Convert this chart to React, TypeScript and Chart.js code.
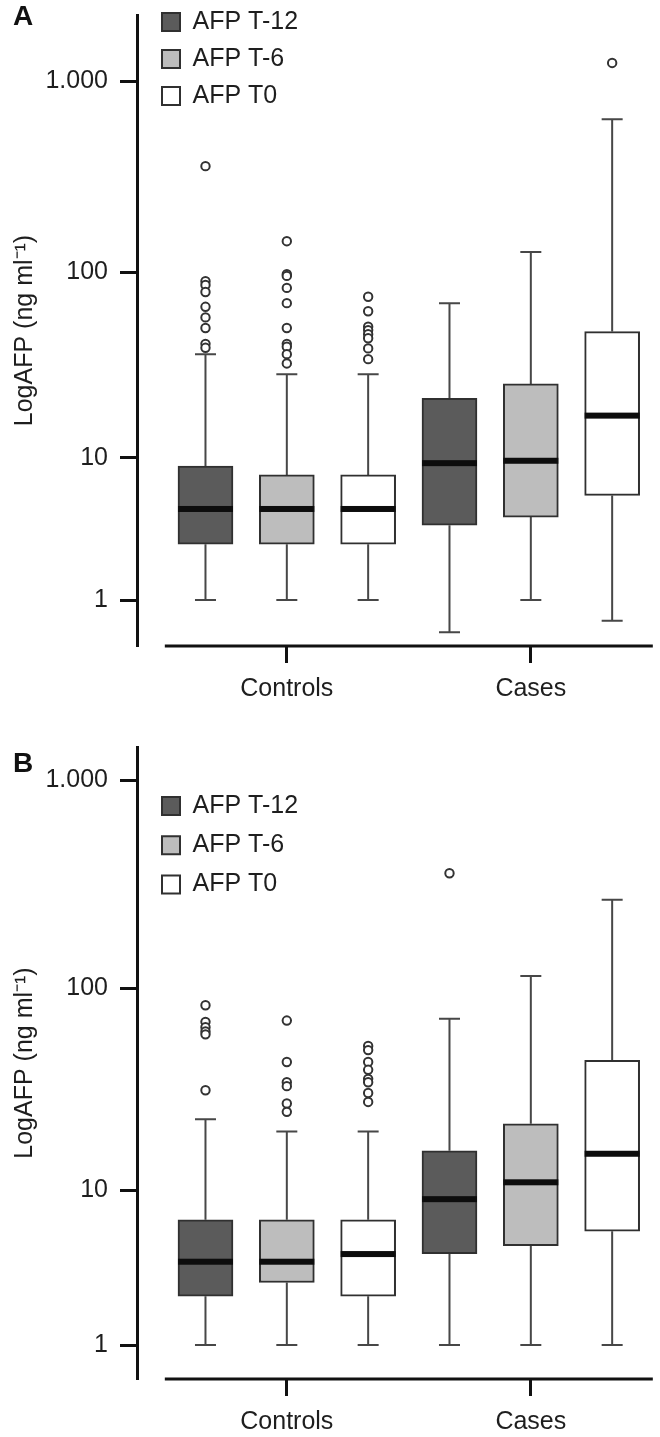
import React, { useEffect, useRef } from 'react';
import { Chart, registerables } from 'chart.js';

Chart.register(...registerables);

const FONT = "'Liberation Sans', Arial, Helvetica, sans-serif";
Chart.defaults.font.family = FONT;

// ---- categories / series / ticks ----
const GROUPS = ['Controls', 'Cases'];
const GROUP_POS = [1, 2];
const SERIES = ['AFP T-12', 'AFP T-6', 'AFP T0'];
const SERIES_OFFSET = [-1 / 3, 0, 1 / 3];
const SERIES_FILL = ['#5b5b5b', '#bdbdbd', '#ffffff'];
const Y_TICKS = [1, 10, 100, 1000];
const Y_TICK_LABELS = ['1', '10', '100', '1.000'];
const Y_TITLE = 'LogAFP (ng ml\u207B\u00B9)';

// ---- Panel A: per series, per group [low whisker, Q1, median, Q3, high whisker] ----
const A_T12 = [[1, 2.9, 4.95, 8.95, 37], [0.36, 3.9, 9.3, 21.4, 69]];
const A_T6 = [[1, 2.9, 4.95, 7.95, 28.9], [1, 4.4, 9.6, 25.6, 128]];
const A_T0 = [[1, 2.9, 4.95, 7.95, 28.9], [0.56, 6.0, 17.2, 48.8, 632]];
const A_T12_OUT = [[360, 90, 86, 79, 66, 58, 51, 42, 40], []];
const A_T6_OUT = [[146, 98, 96, 83, 69, 51, 42, 40.5, 37, 33], []];
const A_T0_OUT = [[74.6, 62.5, 51.8, 49.7, 47.2, 45, 39.7, 34.8], [1242]];
const A_Y_RANGE = [0.153, 2206];

// ---- Panel B ----
const B_T12 = [[1, 2.42, 4.0, 6.93, 23], [1, 4.47, 8.95, 15.96, 71.5]];
const B_T6 = [[1, 2.98, 4.0, 6.93, 19.95], [1, 4.96, 10.98, 21.8, 114.8]];
const B_T0 = [[1, 2.42, 4.44, 6.93, 19.95], [1, 6.0, 15.4, 44.9, 267]];
const B_T12_OUT = [[83, 69, 65, 62, 60, 32], [358]];
const B_T6_OUT = [[70, 44, 35, 33.5, 27.5, 25], []];
const B_T0_OUT = [[52.7, 50.3, 44, 40.3, 36.4, 35, 31, 28], []];
const B_Y_RANGE = [0.376, 1439];

// axis mapping: log10(AFP + 1)
const tf = (v: number) => Math.log10(v + 1);

const legendPlacer = {
  id: 'legendPlacer',
  afterLayout(chart: any, _a: any, opts: any) {
    const lg = chart.legend;
    if (!lg) return;
    const pad = lg.options.labels.padding;
    lg.left = opts.x - pad;
    lg.right = lg.left + lg.width;
    lg.top = opts.y - pad;
    lg.bottom = lg.top + 500;
  },
};

function makeBoxPlugin(stats: number[][][]) {
  return {
    id: 'boxWhiskers',
    beforeDatasetsDraw(chart: any) {
      const { ctx, scales } = chart;
      const x = scales.x;
      const y = scales.y;
      ctx.save();
      ctx.strokeStyle = '#474747';
      ctx.lineWidth = 2;
      stats.forEach((series, s) =>
        series.forEach((st, g) => {
          const cx = x.getPixelForValue(GROUP_POS[g] + SERIES_OFFSET[s]);
          const [lo, q1, , q3, hi] = st.map((v) => y.getPixelForValue(tf(v)));
          const cap = 10.5;
          ctx.beginPath();
          ctx.moveTo(cx, q3);
          ctx.lineTo(cx, hi);
          ctx.moveTo(cx, q1);
          ctx.lineTo(cx, lo);
          ctx.moveTo(cx - cap, hi);
          ctx.lineTo(cx + cap, hi);
          ctx.moveTo(cx - cap, lo);
          ctx.lineTo(cx + cap, lo);
          ctx.stroke();
        })
      );
      ctx.restore();
    },
    afterDatasetsDraw(chart: any) {
      const { ctx, scales, chartArea } = chart;
      const x = scales.x;
      const y = scales.y;
      ctx.save();
      ctx.fillStyle = '#0d0d0d';
      stats.forEach((series, s) =>
        series.forEach((st, g) => {
          const bar = chart.getDatasetMeta(s).data[g];
          const w = bar.width;
          const cx = bar.x;
          const my = y.getPixelForValue(tf(st[2]));
          ctx.fillRect(cx - w / 2, my - 3, w, 6);
        })
      );
      // x axis line (starts away from the y axis)
      ctx.strokeStyle = '#111111';
      ctx.lineWidth = 3;
      ctx.beginPath();
      ctx.moveTo(x.getPixelForValue(0.5), chartArea.bottom);
      ctx.lineTo(x.getPixelForValue(2.5), chartArea.bottom);
      ctx.stroke();
      ctx.restore();
    },
  };
}

type PanelProps = {
  top: number;
  height: number;
  letter: string;
  letterTop: number;
  stats: number[][][];
  outliers: number[][][];
  yRange: number[];
  areaTop: number;
  areaBottom: number;
  legendY: number;
  legendPad: number;
};

function Panel(p: PanelProps) {
  const ref = useRef<HTMLCanvasElement>(null);
  useEffect(() => {
    if (!ref.current) return;
    const tickFont = { size: 25, family: FONT };
    const barSets = SERIES.map((label, s) => ({
      type: 'bar' as const,
      label,
      data: GROUPS.map((_, g) => ({
        x: GROUP_POS[g] + SERIES_OFFSET[s],
        y: [tf(p.stats[s][g][1]), tf(p.stats[s][g][3])],
      })),
      backgroundColor: SERIES_FILL[s],
      borderColor: '#303030',
      borderWidth: 2,
      borderSkipped: false,
      barThickness: 55,
      grouped: false,
    }));
    const outlierSet = {
      type: 'scatter' as const,
      label: 'outliers',
      data: p.outliers.flatMap((series, s) =>
        series.flatMap((vals, g) =>
          vals.map((v) => ({ x: GROUP_POS[g] + SERIES_OFFSET[s], y: tf(v) }))
        )
      ),
      pointRadius: 4.2,
      pointBorderWidth: 2,
      pointBorderColor: '#333333',
      pointBackgroundColor: '#ffffff',
    };
    const chart = new Chart(ref.current, {
      type: 'bar',
      data: { datasets: [...barSets, outlierSet] as any },
      plugins: [legendPlacer, makeBoxPlugin(p.stats)],
      options: {
        responsive: false,
        animation: false,
        events: [],
        layout: { padding: { top: p.areaTop, right: 2, bottom: 0, left: 0 } },
        plugins: {
          legend: {
            position: 'chartArea',
            align: 'start',
            labels: {
              boxWidth: 18,
              boxHeight: 18,
              padding: p.legendPad,
              color: '#1e1e1e',
              font: tickFont,
              filter: (item: any) => item.datasetIndex < SERIES.length,
            },
          },
          tooltip: { enabled: false },
          legendPlacer: { x: 162, y: p.legendY },
        } as any,
        scales: {
          x: {
            type: 'linear',
            min: 0.386,
            max: 2.504,
            offset: false,
            afterBuildTicks: (s: any) => {
              s.ticks = GROUP_POS.map((v) => ({ value: v }));
            },
            afterFit: (s: any) => {
              s.height = p.height - p.areaBottom;
              s.paddingLeft = 0;
              s.paddingRight = 0;
              s.paddingTop = 0;
              s.paddingBottom = 0;
            },
            ticks: {
              callback: (_v: any, i: number) => GROUPS[i],
              font: tickFont,
              color: '#1e1e1e',
              padding: 11,
              maxRotation: 0,
              autoSkip: false,
            },
            grid: {
              offset: false,
              drawOnChartArea: false,
              drawTicks: true,
              tickLength: 17,
              tickWidth: 3,
              tickColor: '#111111',
            },
            border: { display: false },
          },
          y: {
            type: 'linear',
            min: tf(p.yRange[0]),
            max: tf(p.yRange[1]),
            afterBuildTicks: (s: any) => {
              s.ticks = Y_TICKS.map((v) => ({ value: tf(v) }));
            },
            afterFit: (s: any) => {
              s.width = 137;
              s.paddingLeft = 0;
              s.paddingRight = 0;
              s.paddingTop = 0;
              s.paddingBottom = 0;
            },
            ticks: {
              callback: (_v: any, i: number) => Y_TICK_LABELS[i],
              font: tickFont,
              color: '#1e1e1e',
              padding: 12,
              autoSkip: false,
            },
            grid: {
              drawOnChartArea: false,
              drawTicks: true,
              tickLength: 17,
              tickWidth: 3,
              tickColor: '#111111',
            },
            border: { display: true, width: 3, color: '#111111' },
            title: {
              display: true,
              text: Y_TITLE,
              font: tickFont,
              color: '#1e1e1e',
              padding: { top: 10, bottom: 0 },
            },
          },
        } as any,
      },
    });
    return () => chart.destroy();
  }, []);
  return (
    <div style={{ position: 'absolute', left: 0, top: p.top, width: 660, height: p.height }}>
      <canvas ref={ref} width={660} height={p.height} style={{ display: 'block' }} />
      <div
        style={{
          position: 'absolute',
          left: 13,
          top: p.letterTop,
          font: `bold 28px ${FONT}`,
          lineHeight: 1,
          color: '#111',
        }}
      >
        {p.letter}
      </div>
    </div>
  );
}

export default function App() {
  return (
    <div style={{ position: 'absolute', left: 0, top: 0, width: 660, height: 1437, background: '#fff' }}>
      <Panel
        top={0}
        height={718}
        letter="A"
        letterTop={2.3}
        stats={[A_T12, A_T6, A_T0]}
        outliers={[A_T12_OUT, A_T6_OUT, A_T0_OUT]}
        yRange={A_Y_RANGE}
        areaTop={15}
        areaBottom={646}
        legendY={9.5}
        legendPad={12}
      />
      <Panel
        top={718}
        height={719}
        letter="B"
        letterTop={31.3}
        stats={[B_T12, B_T6, B_T0]}
        outliers={[B_T12_OUT, B_T6_OUT, B_T0_OUT]}
        yRange={B_Y_RANGE}
        areaTop={29}
        areaBottom={661}
        legendY={75.5}
        legendPad={14.3}
      />
    </div>
  );
}
